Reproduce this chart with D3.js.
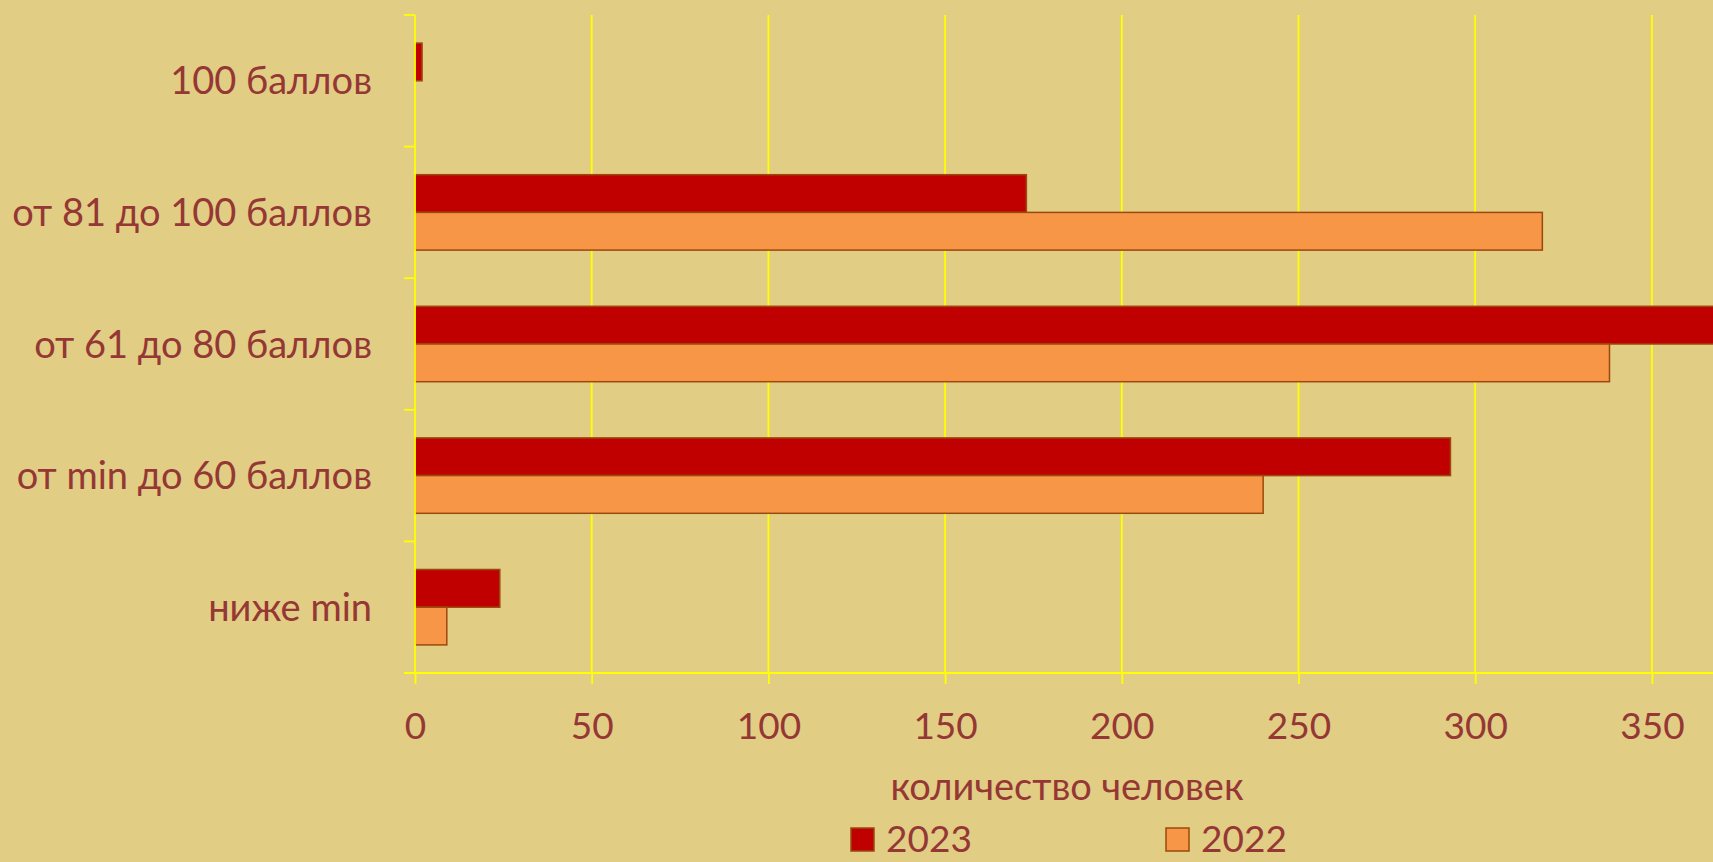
<!DOCTYPE html>
<html>
<head>
<meta charset="utf-8">
<script src="https://cdn.jsdelivr.net/npm/d3@7"></script>
<style>
  body { margin: 0; background: #e1cd84; overflow: hidden; }
  svg { display: block; font-family: Lato, "Open Sans", sans-serif; }
</style>
</head>
<body>
<div id="chart"></div>
<script>
// data
const categories = ["100 баллов", "от 81 до 100 баллов", "от 61 до 80 баллов", "от min до 60 баллов", "ниже min"];
const seriesNames = ["2023", "2022"];
const values2023 = [2, 173, 372, 293, 24];
const values2022 = [0, 319, 338, 240, 9];
const xTicks = [0, 50, 100, 150, 200, 250, 300, 350];
const xMax = 400;

const colors = { "2023": "#c00000", "2022": "#f79646" };
const textColor = "#953735";
const gridColor = "#ffff00";

var width = 1713, height = 862;
var margin = { top: 15, left: 415, bottom: 189 };
var plotBottom = height - margin.bottom;

var svg = d3.select("#chart").append("svg")
  .attr("width", width)
  .attr("height", height);

svg.append("rect")
  .attr("width", width)
  .attr("height", height)
  .attr("fill", "#e1cd84");

// x scale: 50 units ~ 176.7px, the chart runs past the right edge
var x = d3.scaleLinear()
  .domain([0, xMax])
  .range([margin.left, margin.left + 8 * 176.7]);

var y = d3.scaleBand()
  .domain(categories)
  .range([margin.top, plotBottom])
  .paddingInner(0.427)
  .paddingOuter(0.2135);

var ySub = d3.scaleBand()
  .domain(seriesNames)
  .range([0, y.bandwidth()])
  .padding(0);

var step = y.step();

// vertical grid lines
svg.append("g")
  .selectAll("line")
  .data(xTicks.filter(d => d > 0).concat([xMax]))
  .join("line")
  .attr("x1", d => x(d)).attr("x2", d => x(d))
  .attr("y1", margin.top).attr("y2", plotBottom)
  .attr("stroke", gridColor)
  .attr("stroke-width", 1.8);

// bars
var rows = categories.map((c, i) => ({
  cat: c,
  vals: [
    { name: "2023", value: values2023[i] },
    { name: "2022", value: values2022[i] }
  ]
}));

svg.append("g")
  .selectAll("g")
  .data(rows)
  .join("g")
  .attr("transform", d => "translate(0," + y(d.cat) + ")")
  .selectAll("rect")
  .data(d => d.vals.filter(v => v.value > 0))
  .join("rect")
  .attr("x", x(0))
  .attr("y", d => ySub(d.name))
  .attr("width", d => x(d.value) - x(0))
  .attr("height", ySub.bandwidth())
  .attr("fill", d => colors[d.name])
  .attr("stroke", "#9a4a0c")
  .attr("stroke-width", 1.5);

// y axis: line plus ticks at category boundaries
var yAxis = svg.append("g");
yAxis.append("line")
  .attr("x1", x(0)).attr("x2", x(0))
  .attr("y1", margin.top).attr("y2", plotBottom)
  .attr("stroke", gridColor).attr("stroke-width", 1.8);
yAxis.selectAll(".tick")
  .data(d3.range(categories.length + 1))
  .join("line")
  .attr("x1", x(0) - 11).attr("x2", x(0))
  .attr("y1", i => margin.top + i * step)
  .attr("y2", i => margin.top + i * step)
  .attr("stroke", gridColor).attr("stroke-width", 1.8);

// category labels
svg.append("g")
  .selectAll("text")
  .data(categories)
  .join("text")
  .attr("x", x(0) - 43)
  .attr("y", d => y(d) + y.bandwidth() / 2)
  .attr("dy", "0.36em")
  .attr("text-anchor", "end")
  .attr("fill", textColor)
  .style("font-size", "38px")
  .text(d => d);

// x axis
var xAxis = svg.append("g")
  .attr("transform", "translate(0," + plotBottom + ")")
  .call(d3.axisBottom(x).tickValues(xTicks).tickSize(11).tickPadding(29).tickFormat(d3.format("d")));
xAxis.select(".domain")
  .attr("d", "M" + (x(0) - 11) + ",0H" + width)
  .attr("stroke", gridColor).attr("stroke-width", 1.8);
xAxis.selectAll(".tick line").attr("stroke", gridColor).attr("stroke-width", 1.8);
xAxis.selectAll(".tick text")
  .attr("fill", textColor)
  .style("font-size", "37px")
  .style("font-family", "Lato, 'Open Sans', sans-serif");

// x axis title
svg.append("text")
  .attr("x", 1067)
  .attr("y", 787)
  .attr("dy", "0.35em")
  .attr("text-anchor", "middle")
  .attr("fill", textColor)
  .style("font-size", "38px")
  .text("количество человек");

// legend
var legend = svg.append("g")
  .selectAll("g")
  .data(seriesNames)
  .join("g")
  .attr("transform", (d, i) => "translate(" + (851 + i * 315) + ",828)");
legend.append("rect")
  .attr("width", 23).attr("height", 23)
  .attr("fill", d => colors[d])
  .attr("stroke", "#9a4a0c").attr("stroke-width", 1.5);
legend.append("text")
  .attr("x", 35)
  .attr("y", 24)
  .attr("fill", textColor)
  .style("font-size", "37px")
  .text(d => d);
</script>
</body>
</html>
